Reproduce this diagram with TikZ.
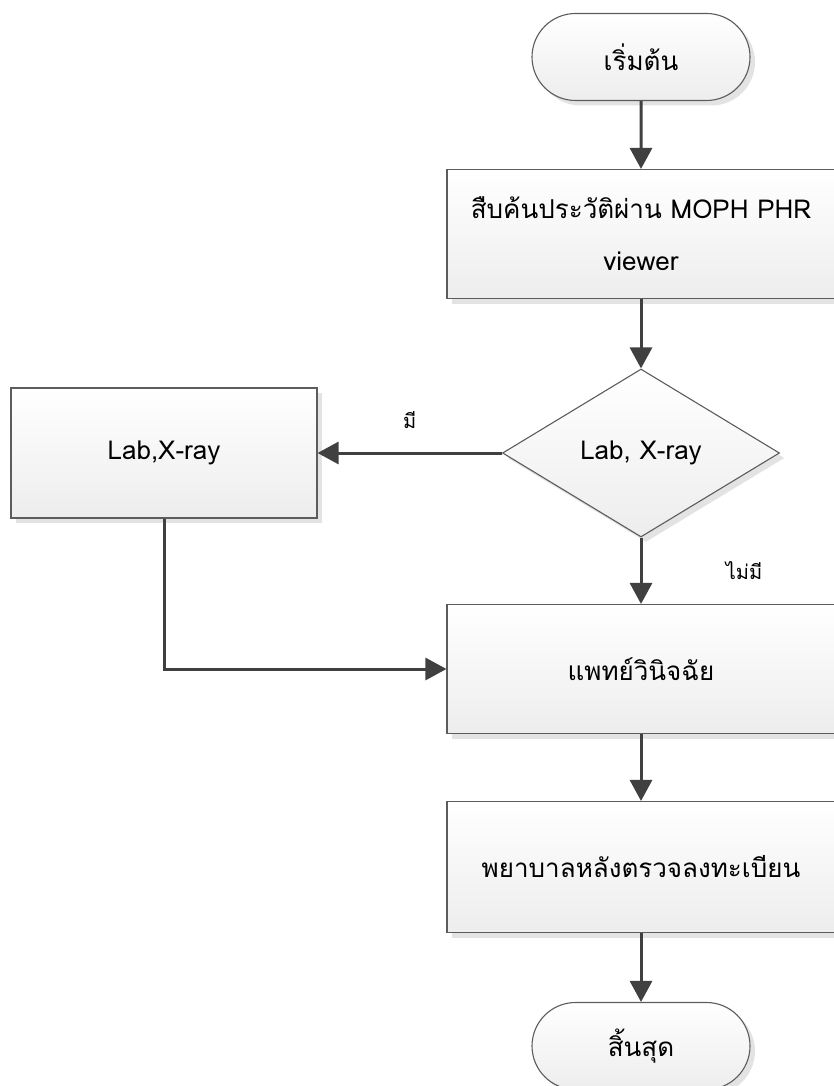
\documentclass[tikz,border=0pt]{standalone}
\usepackage{fontspec}
\setmainfont[Script=Thai]{Loma}
\usetikzlibrary{shapes.geometric,shapes.misc,arrows.meta,shadows,positioning}
\definecolor{linegray}{HTML}{404040}
\definecolor{edgegray}{HTML}{5C5C5C}
\definecolor{shadegray}{HTML}{EDEDED}
\definecolor{shadowgray}{HTML}{E3E3E3}
\tikzset{
  flowbox/.style={draw=edgegray, line width=1.1pt, top color=white, bottom color=shadegray,
    drop shadow={shadow xshift=5pt, shadow yshift=-5pt, fill=shadowgray, opacity=1},
    font=\fontsize{26}{52}\selectfont, align=center, inner sep=0pt},
  procbox/.style={flowbox, rectangle, minimum width=388pt, minimum height=129pt},
  termbox/.style={flowbox, rounded rectangle, minimum width=218pt, minimum height=87pt},
  decbox/.style={flowbox, diamond, minimum width=277pt, minimum height=168pt},
  flowline/.style={draw=linegray, line width=3pt, -{Triangle[length=21pt,width=22pt]}},
  flowlabel/.style={font=\fontsize{20}{24}\selectfont}
}

\begin{document}
\begin{tikzpicture}[x=1pt,y=-1pt]
		\useasboundingbox (0,0) rectangle (834,1086);
		\node[termbox] (start) at (641,57) {เริ่มต้น};
		\node[procbox] (search) at (641,234) {สืบค้นประวัติผ่าน MOPH PHR\\viewer};
		\node[decbox] (check) at (641,453) {Lab, X-ray};
		\node[procbox, minimum width=306pt, minimum height=130pt] (lab) at (164,453) {Lab,X-ray};
		\node[procbox] (diag) at (641,669) {แพทย์วินิจฉัย};
		\node[procbox, minimum height=131pt] (nurse) at (641,867) {พยาบาลหลังตรวจลงทะเบียน};
		\node[termbox] (stop) at (641,1046) {สิ้นสุด};
		\draw[flowline] (start) -- (search);
		\draw[flowline] (search) -- (check);
		\draw[flowline] (check) -- node[flowlabel, above=20pt] {มี} (lab);
		\draw[flowline] (check) -- node[flowlabel, right=80pt] {ไม่มี} (diag);
		\draw[flowline] (lab.south) |- (diag.west);
		\draw[flowline] (diag) -- (nurse);
		\draw[flowline] (nurse) -- (stop);
		\end{tikzpicture}
\end{document}
